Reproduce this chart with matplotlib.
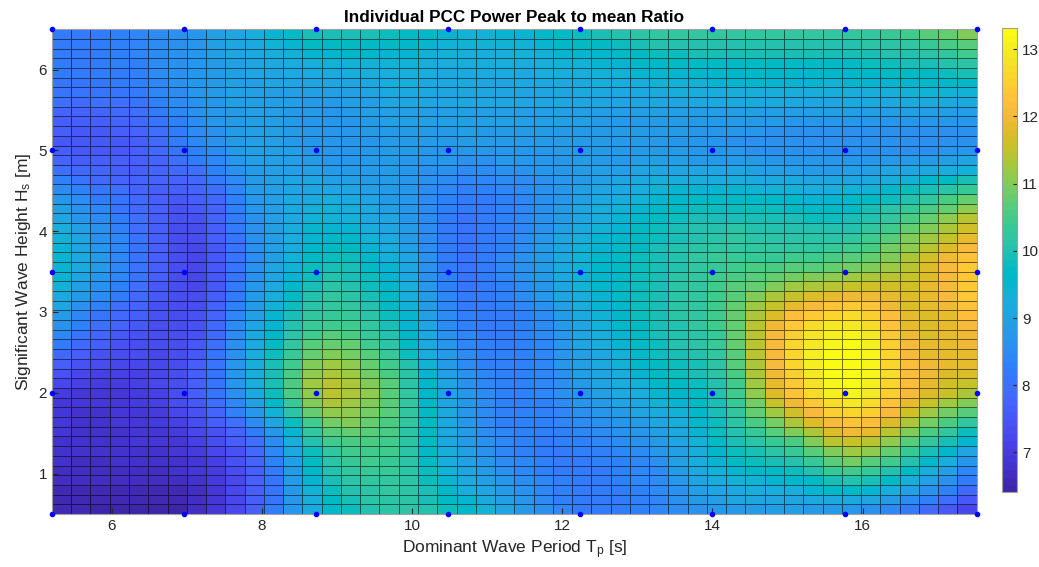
import numpy as np
import matplotlib.pyplot as plt
from matplotlib.colors import ListedColormap

plt.rcParams['font.family'] = ['Liberation Sans', 'DejaVu Sans']
plt.rcParams['mathtext.default'] = 'regular'

# measured sea states (blue dots)
tp_pts = [5.2, 6.96, 8.72, 10.48, 12.24, 14.0, 15.76, 17.52]
hs_pts = [0.5, 2.0, 3.5, 5.0, 6.5]

# peak-to-mean ratio, Tp every 0.88 s, one list per Hs
tp_grid = [5.2, 6.08, 6.96, 7.84, 8.72, 9.6, 10.48, 11.36, 12.24, 13.12, 14.0,
           14.88, 15.76, 16.64, 17.52]
hs_grid = [0.5, 1.25, 2.0, 2.75, 3.5, 4.25, 5.0, 5.75, 6.5]
ratio_hs050 = [6.55, 6.5, 6.6, 7.8, 9.5, 10.1, 9.7, 8.8, 8.2, 8.4, 8.8, 8.9, 8.7, 8.0, 6.9]
ratio_hs125 = [6.8, 6.8, 7.0, 8.0, 10.2, 10.4, 9.0, 8.3, 8.3, 8.7, 9.7, 10.3, 11.3, 10.2, 8.7]
ratio_hs200 = [7.1, 7.0, 7.6, 9.4, 11.4, 10.6, 8.8, 8.3, 8.9, 9.5, 10.1, 12.2, 13.2, 11.9, 11.4]
ratio_hs275 = [8.6, 7.6, 7.4, 9.2, 10.5, 9.9, 8.4, 8.3, 9.2, 9.9, 10.5, 12.3, 13.0, 11.8, 12.4]
ratio_hs350 = [9.5, 8.3, 7.2, 8.7, 9.9, 9.4, 8.1, 8.6, 9.5, 9.9, 10.4, 10.6, 10.9, 11.6, 12.8]
ratio_hs425 = [8.9, 8.0, 7.5, 8.8, 9.3, 8.9, 8.2, 8.4, 9.1, 9.6, 9.8, 9.7, 9.7, 10.4, 11.3]
ratio_hs500 = [7.6, 7.6, 8.3, 9.0, 8.7, 8.8, 8.8, 8.8, 8.8, 8.8, 8.7, 8.6, 8.6, 8.6, 8.7]
ratio_hs575 = [8.1, 8.2, 8.7, 9.0, 9.0, 9.2, 9.1, 9.1, 9.2, 9.3, 9.4, 9.4, 9.4, 9.5, 9.6]
ratio_hs650 = [8.2, 8.3, 8.7, 9.4, 10.2, 9.9, 9.5, 9.6, 10.0, 10.4, 10.4, 10.4, 10.4, 10.8, 11.7]

# MATLAB parula (64 entries)
parula_rgb = [
    (0.2422, 0.1504, 0.6603), (0.2504, 0.1650, 0.7076), (0.2578, 0.1818, 0.7511),
    (0.2647, 0.1978, 0.7952), (0.2706, 0.2147, 0.8364), (0.2751, 0.2342, 0.8710),
    (0.2783, 0.2559, 0.8991), (0.2803, 0.2782, 0.9221), (0.2813, 0.3006, 0.9414),
    (0.2810, 0.3228, 0.9579), (0.2795, 0.3447, 0.9717), (0.2760, 0.3667, 0.9829),
    (0.2699, 0.3892, 0.9906), (0.2602, 0.4123, 0.9952), (0.2440, 0.4358, 0.9988),
    (0.2206, 0.4603, 0.9973), (0.1963, 0.4847, 0.9892), (0.1834, 0.5074, 0.9798),
    (0.1786, 0.5289, 0.9682), (0.1764, 0.5499, 0.9520), (0.1687, 0.5703, 0.9359),
    (0.1540, 0.5902, 0.9218), (0.1460, 0.6091, 0.9079), (0.1380, 0.6276, 0.8973),
    (0.1248, 0.6459, 0.8883), (0.1113, 0.6635, 0.8763), (0.0952, 0.6798, 0.8598),
    (0.0689, 0.6948, 0.8394), (0.0297, 0.7082, 0.8163), (0.0036, 0.7203, 0.7917),
    (0.0067, 0.7312, 0.7660), (0.0433, 0.7411, 0.7394), (0.0964, 0.7500, 0.7120),
    (0.1408, 0.7584, 0.6842), (0.1717, 0.7670, 0.6554), (0.1938, 0.7758, 0.6251),
    (0.2161, 0.7843, 0.5923), (0.2470, 0.7918, 0.5567), (0.2906, 0.7973, 0.5188),
    (0.3406, 0.8008, 0.4789), (0.3909, 0.8029, 0.4354), (0.4456, 0.8024, 0.3909),
    (0.5044, 0.7993, 0.3480), (0.5616, 0.7942, 0.3045), (0.6174, 0.7876, 0.2612),
    (0.6720, 0.7793, 0.2227), (0.7242, 0.7698, 0.1910), (0.7738, 0.7598, 0.1646),
    (0.8203, 0.7498, 0.1535), (0.8634, 0.7406, 0.1596), (0.9035, 0.7330, 0.1774),
    (0.9393, 0.7288, 0.2100), (0.9728, 0.7298, 0.2394), (0.9956, 0.7434, 0.2371),
    (0.9970, 0.7659, 0.2199), (0.9952, 0.7893, 0.2028), (0.9892, 0.8136, 0.1885),
    (0.9786, 0.8386, 0.1766), (0.9676, 0.8639, 0.1643), (0.9610, 0.8890, 0.1537),
    (0.9597, 0.9135, 0.1423), (0.9628, 0.9373, 0.1265), (0.9691, 0.9606, 0.1064),
    (0.9769, 0.9839, 0.0805)]


def cubic_interp(xk, yk, xq):
    # cubic convolution (Keys), uniform knots
    xk = np.asarray(xk, float); yk = np.asarray(yk, float)
    h = xk[1] - xk[0]
    ext = np.concatenate([[3 * yk[0] - 3 * yk[1] + yk[2]], yk,
                          [3 * yk[-1] - 3 * yk[-2] + yk[-3]]])
    s = (np.asarray(xq) - xk[0]) / h
    j = np.clip(np.floor(s + 1e-9).astype(int), 0, len(xk) - 2)
    t = s - j
    p0, p1, p2, p3 = ext[j], ext[j + 1], ext[j + 2], ext[j + 3]
    return p1 + 0.5 * t * (p2 - p0 + t * (2 * p0 - 5 * p1 + 4 * p2 - p3 +
                                          t * (3 * (p1 - p2) + p3 - p0)))


Z = np.array([ratio_hs050, ratio_hs125, ratio_hs200, ratio_hs275, ratio_hs350,
              ratio_hs425, ratio_hs500, ratio_hs575, ratio_hs650])
xf = np.linspace(tp_grid[0], tp_grid[-1], 49)
yf = np.linspace(hs_grid[0], hs_grid[-1], 51)
Zx = np.array([cubic_interp(tp_grid, row, xf) for row in Z])
Zf = np.array([cubic_interp(hs_grid, Zx[:, k], yf) for k in range(len(xf))]).T

fig = plt.figure(figsize=(10.39, 5.67), dpi=100)
ax = fig.add_axes([0.050, 0.0935, 0.890, 0.855])
mesh = ax.pcolormesh(xf, yf, Zf[:-1, :-1], cmap=ListedColormap(parula_rgb), vmin=6.41,
                     vmax=13.31, edgecolors=(0, 0, 0, 0.55), linewidth=0.7, shading='flat')
TP, HS = np.meshgrid(tp_pts, hs_pts)
ax.plot(TP.ravel(), HS.ravel(), '.', color='blue', markersize=6, zorder=3, clip_on=False)

ax.set_xlim(tp_pts[0], tp_pts[-1])
ax.set_ylim(hs_pts[0], hs_pts[-1])
ax.set_xticks([6, 8, 10, 12, 14, 16])
ax.set_yticks([1, 2, 3, 4, 5, 6])
ax.tick_params(direction='in', labelsize=11, colors='#262626', length=4)
for s in ax.spines.values():
    s.set_color('#a0a0a0')
ax.set_title('Individual PCC Power Peak to mean Ratio', fontsize=12.3, fontweight='bold', pad=5)
ax.set_xlabel('Dominant Wave Period T$_{p}$ [s]', fontsize=12.5, color='#262626')
ax.set_ylabel('Significant Wave Height H$_{s}$ [m]', fontsize=12.5, color='#262626')

cax = fig.add_axes([0.9644, 0.132, 0.0144, 0.818])
cb = fig.colorbar(mesh, cax=cax)
cb.set_ticks([7, 8, 9, 10, 11, 12, 13])
cb.ax.tick_params(direction='in', labelsize=11, colors='#262626', length=3)
cb.outline.set_edgecolor('#a0a0a0')

fig.savefig('out.png', dpi=100)
